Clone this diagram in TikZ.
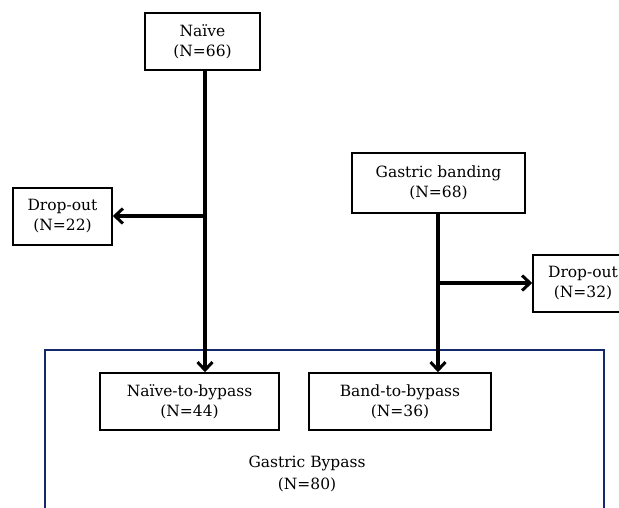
\documentclass[tikz,border=0pt]{standalone}
\usepackage{fontspec}
\setmainfont{DejaVu Serif}
\usetikzlibrary{arrows.meta}
\definecolor{navy}{RGB}{20,40,110}
\begin{document}
\begin{tikzpicture}[x=1pt,y=-1pt,
  box/.style={draw=black,line width=1.5pt,fill=white,inner sep=0pt,align=center,
    font=\fontsize{15.5}{20}\selectfont},
  conn/.style={line width=3.4pt},
  arr/.style={line width=3.4pt,-{Straight Barb[length=8pt,width=15pt,line width=3pt]}}]
\useasboundingbox (0,0) rectangle (619,507);
\clip (0,0) rectangle (619,507);
% outer group
\draw[navy,line width=2.6pt] (45,530) -- (45,350) -- (604,350) -- (604,530);
\node[font=\fontsize{15.5}{22}\selectfont,align=center] (gb) at (307,474) {Gastric Bypass\\(N=80)};
% boxes
\node[box,minimum width=115pt,minimum height=57pt] (naive) at (202.5,41.5) {Naïve\\(N=66)};
\node[box,minimum width=99pt,minimum height=57pt] (dropL) at (62.5,216.5) {Drop-out\\(N=22)};
\node[box,minimum width=173pt,minimum height=60pt] (band) at (438.5,183) {Gastric banding\\(N=68)};
\node[box,minimum width=100pt,minimum height=57pt] (dropR) at (583,283.5) {Drop-out\\(N=32)};
\node[box,minimum width=179pt,minimum height=57pt] (ntb) at (189.5,401.5) {Naïve-to-bypass\\(N=44)};
\node[box,minimum width=182pt,minimum height=57pt] (btb) at (400,401.5) {Band-to-bypass\\(N=36)};
% junctions
\coordinate (jL) at (205,216);
\coordinate (jR) at (438,283);
% connectors
\draw[conn] (naive.south -| jL) -- (jL);
\draw[arr] (jL) -- (ntb.north -| jL);
\draw[arr] (jL) -- (dropL.east |- jL);
\draw[conn] (band.south -| jR) -- (jR);
\draw[arr] (jR) -- (btb.north -| jR);
\draw[arr] (jR) -- (dropR.west |- jR);
\end{tikzpicture}
\end{document}
